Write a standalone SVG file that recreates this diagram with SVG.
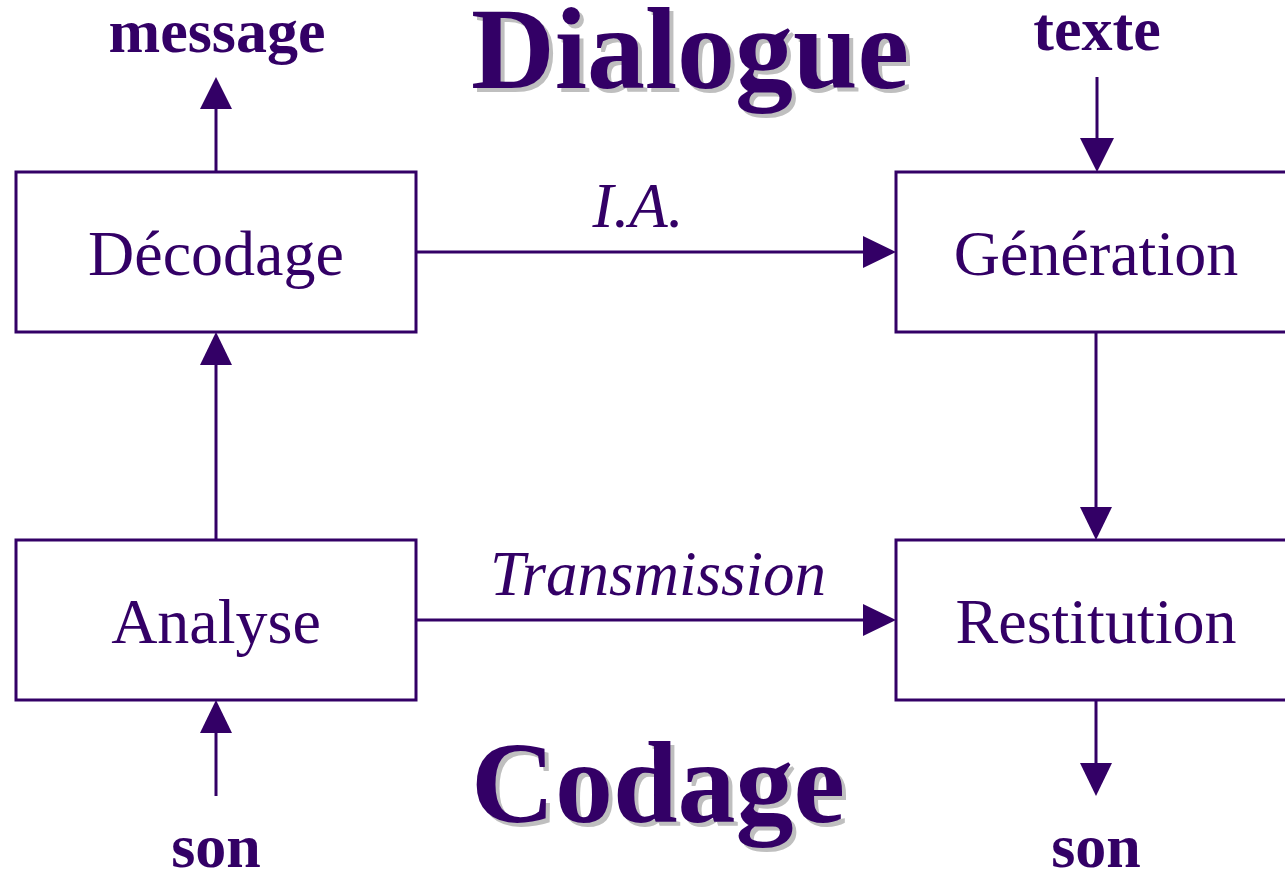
<svg xmlns="http://www.w3.org/2000/svg" width="1285" height="872" viewBox="0 0 1285 872">
  <style>
    .box { fill: #ffffff; stroke: #330066; stroke-width: 3; }
    .lbl { font-family: "Liberation Serif", "Times New Roman", serif; fill: #330066; text-anchor: middle; }
    .node { font-size: 64px; }
    .io { font-size: 62px; font-weight: bold; }
    .edge { font-size: 63px; font-style: italic; }
    .title { font-size: 116px; font-weight: bold; }
    .shadow { fill: #bfbfbf; }
    .wire { stroke: #330066; stroke-width: 3; fill: none; }
    .head { fill: #330066; }
  </style>

  <rect width="1285" height="872" fill="#ffffff"/>

  <!-- Titles with drop shadow -->
  <g id="title-dialogue">
    <text class="lbl title shadow" x="694" y="92">Dialogue</text>
    <text class="lbl title" x="690" y="88">Dialogue</text>
  </g>
  <g id="title-codage">
    <text class="lbl title shadow" x="662" y="826">Codage</text>
    <text class="lbl title" x="658" y="822">Codage</text>
  </g>

  <!-- Connectors -->
  <g id="connectors">
    <!-- Décodage -> message -->
    <line class="wire" x1="216" y1="172" x2="216" y2="108"/>
    <polygon class="head" points="216,77 200,109 232,109"/>
    <!-- texte -> Génération -->
    <line class="wire" x1="1097" y1="77" x2="1097" y2="140"/>
    <polygon class="head" points="1097,172 1080,138 1114,138"/>
    <!-- Décodage -> Génération (I.A.) -->
    <line class="wire" x1="416" y1="252" x2="866" y2="252"/>
    <polygon class="head" points="896,252 863,236 863,268"/>
    <!-- Génération -> Restitution -->
    <line class="wire" x1="1096" y1="332" x2="1096" y2="510"/>
    <polygon class="head" points="1096,540 1080,507 1112,507"/>
    <!-- Analyse -> Décodage -->
    <line class="wire" x1="216" y1="540" x2="216" y2="362"/>
    <polygon class="head" points="216,332 200,365 232,365"/>
    <!-- Analyse -> Restitution (Transmission) -->
    <line class="wire" x1="416" y1="620" x2="866" y2="620"/>
    <polygon class="head" points="896,620 863,604 863,636"/>
    <!-- son -> Analyse -->
    <line class="wire" x1="216" y1="796" x2="216" y2="730"/>
    <polygon class="head" points="216,700 200,733 232,733"/>
    <!-- Restitution -> son -->
    <line class="wire" x1="1096" y1="700" x2="1096" y2="766"/>
    <polygon class="head" points="1096,796 1080,763 1112,763"/>

    <text class="lbl edge" x="638" y="227">I.A.</text>
    <text class="lbl edge" x="658" y="595">Transmission</text>
  </g>

  <!-- Nodes -->
  <g id="node-decodage">
    <rect class="box" x="16" y="172" width="400" height="160"/>
    <text class="lbl node" x="216" y="275">Décodage</text>
  </g>
  <g id="node-generation">
    <rect class="box" x="896" y="172" width="400" height="160"/>
    <text class="lbl node" x="1096" y="275">Génération</text>
  </g>
  <g id="node-analyse">
    <rect class="box" x="16" y="540" width="400" height="160"/>
    <text class="lbl node" x="216" y="643">Analyse</text>
  </g>
  <g id="node-restitution">
    <rect class="box" x="896" y="540" width="400" height="160"/>
    <text class="lbl node" x="1096" y="643">Restitution</text>
  </g>

  <!-- Inputs and outputs -->
  <g id="io-message">
    <text class="lbl io" x="217" y="52">message</text>
  </g>
  <g id="io-texte">
    <text class="lbl io" x="1097" y="50">texte</text>
  </g>
  <g id="io-son-in">
    <text class="lbl io" x="216" y="867">son</text>
  </g>
  <g id="io-son-out">
    <text class="lbl io" x="1096" y="867">son</text>
  </g>
</svg>
